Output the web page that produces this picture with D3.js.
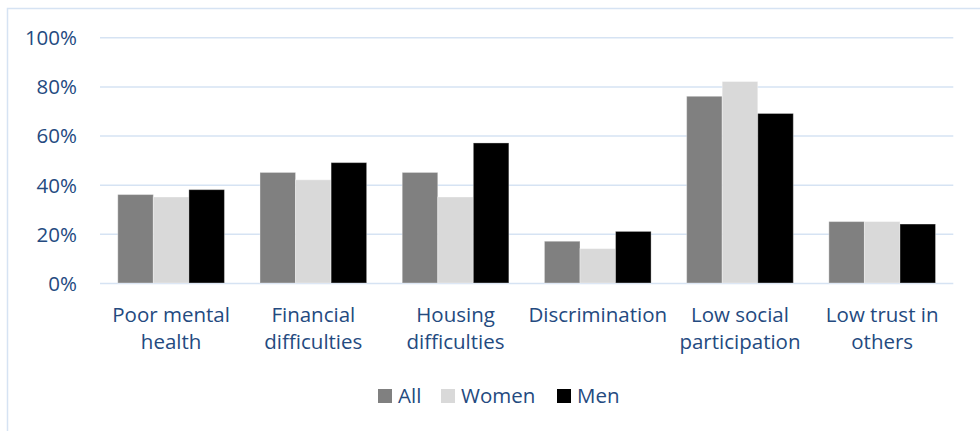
<!DOCTYPE html>
<html><head><meta charset="utf-8">
<script src="https://cdn.jsdelivr.net/npm/d3@7"></script>
<style>body{margin:0;background:#fff}svg{display:block}</style>
</head><body>
<svg id="c" width="980" height="431"></svg>
<script>
const categories = [["Poor mental","health"],["Financial","difficulties"],["Housing","difficulties"],["Discrimination"],["Low social","participation"],["Low trust in","others"]];
const seriesNames = ["All","Women","Men"];
const allVals = [36,45,45,17,76,25];
const womenVals = [35,42,35,14,82,25];
const menVals = [38,49,57,21,69,24];
const yTicks = [0,20,40,60,80,100];
const colors = ["#808080","#d9d9d9","#000000"];
const textColor = "#244a7f";
const font = "Open Sans, sans-serif";
const fs = "20.5px";

const svg = d3.select("#c");
svg.append("rect").attr("x",7.5).attr("y",8.5).attr("width",990).attr("height",440)
  .attr("fill","none").attr("stroke","#d6e3f3").attr("stroke-width",1.5);

const pLeft=100,pRight=953.3,pTop=37.3,pBottom=283;
const x0 = d3.scaleBand().domain(d3.range(categories.length)).range([pLeft,pRight]).padding(0);
const x1 = d3.scaleBand().domain(seriesNames).range([x0.step()*0.125, x0.step()*0.875]).padding(0);
const y = d3.scaleLinear().domain([0,100]).range([pBottom,pTop]);

const yAxis = d3.axisLeft(y).tickValues(yTicks).tickSize(-(pRight-pLeft)).tickFormat(d=>d+"%");
const ga = svg.append("g").attr("transform",`translate(${pLeft},0)`).call(yAxis);
ga.select(".domain").remove();
ga.selectAll(".tick line").attr("stroke","#d6e3f3").attr("stroke-width",1.5);
ga.selectAll(".tick text").attr("x",-23).attr("dy","0.36em").attr("fill",textColor)
  .style("font-family",font).style("font-size",fs);

const data = [allVals,womenVals,menVals];
const g = svg.append("g");
categories.forEach((c,i)=>{
  seriesNames.forEach((s,j)=>{
    g.append("rect").attr("x",x0(i)+x1(s)).attr("width",x1.bandwidth())
      .attr("y",y(data[j][i])).attr("height",y(0)-y(data[j][i]))
      .attr("fill",colors[j]).attr("stroke","rgba(255,255,255,0.35)").attr("stroke-width",1);
  });
  const t = svg.append("text").attr("text-anchor","middle").attr("fill",textColor)
    .style("font-family",font).style("font-size",fs);
  c.forEach((line,k)=>{
    t.append("tspan").attr("x",x0(i)+x0.bandwidth()/2).attr("y",321.5+k*27.8).text(line);
  });
});

const legX = [378,441,557];
seriesNames.forEach((s,j)=>{
  svg.append("rect").attr("x",legX[j]).attr("y",389).attr("width",14).attr("height",14).attr("fill",colors[j]);
  svg.append("text").attr("x",legX[j]+20).attr("y",403).attr("fill",textColor)
    .style("font-family",font).style("font-size",fs).text(s);
});
</script>
</body></html>
